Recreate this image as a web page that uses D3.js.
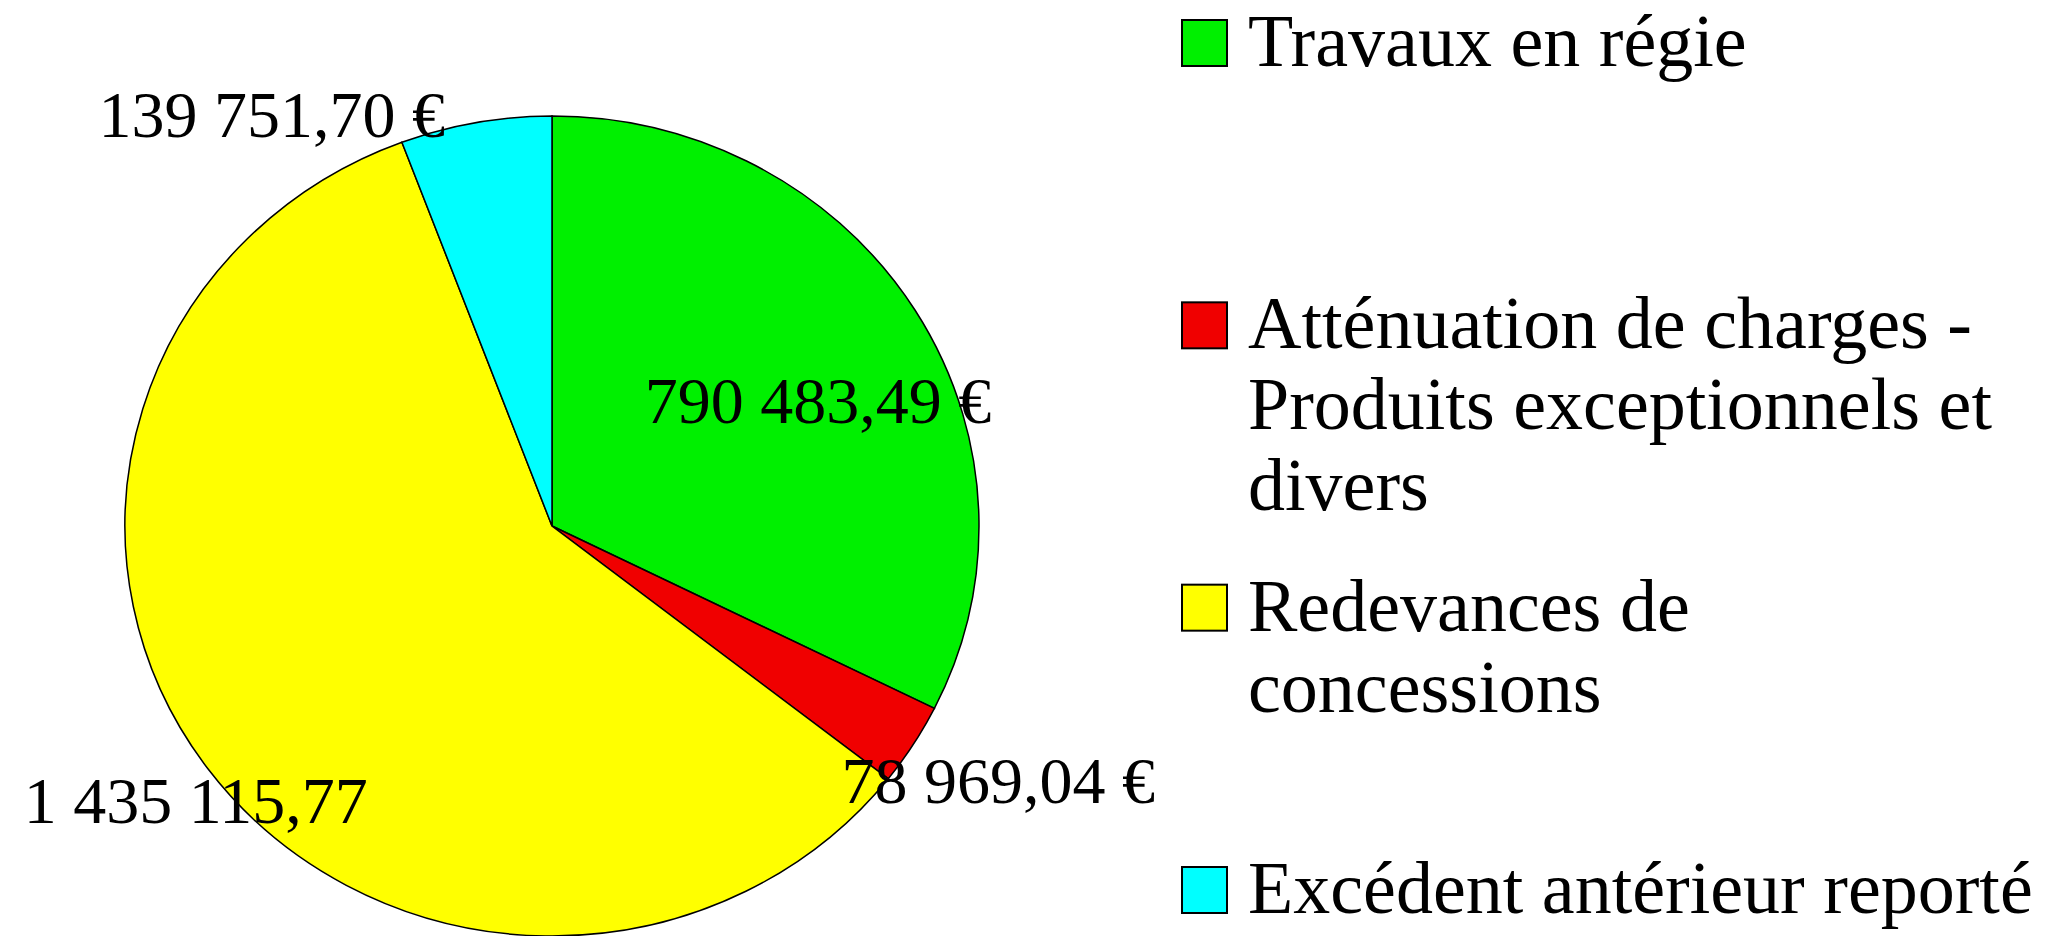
<!DOCTYPE html>
<html>
<head>
<meta charset="utf-8">
<script src="https://cdn.jsdelivr.net/npm/d3@7"></script>
<style>
    body { margin: 0; background: #fff; overflow: hidden; }
    text { font-family: "Liberation Serif", "Times New Roman", serif; fill: #000; }
</style>
</head>
<body>
<div id="chart"></div>
<script>
// data
const categories = ["Travaux en régie", "Atténuation de charges - Produits exceptionnels et divers", "Redevances de concessions", "Excédent antérieur reporté"];
const values = [790483.49, 78969.04, 1435115.77, 139751.70];
const valueLabels = ["790 483,49 €", "78 969,04 €", "1 435 115,77", "139 751,70 €"];
const colors = ["#00f000", "#f00000", "#ffff00", "#00ffff"];

// label placement relative to the rim point at mid angle
const labelOffsets = [[-97, 113], [85, 58], [-12, 54], [-204, 14]];

const width = 2049, height = 936;
const cx = 552, cy = 526, rx = 427, ry = 410;

const svg = d3.select("#chart").append("svg")
    .attr("width", width)
    .attr("height", height);

const pie = d3.pie().sort(null).value(d => d)(values);

const arc = d3.arc().innerRadius(0).outerRadius(ry);

const pieG = svg.append("g")
    .attr("transform", `translate(${cx},${cy}) scale(${rx / ry},1)`);

pieG.selectAll("path")
    .data(pie)
    .enter().append("path")
    .attr("d", arc)
    .attr("fill", (d, i) => colors[i])
    .attr("stroke", "#000")
    .attr("stroke-width", 1.5)
    .attr("vector-effect", "non-scaling-stroke");

// value labels
svg.append("g")
    .attr("transform", `translate(${cx},${cy})`)
    .selectAll("text")
    .data(pie)
    .enter().append("text")
    .attr("x", (d, i) => rx * Math.sin((d.startAngle + d.endAngle) / 2) + labelOffsets[i][0])
    .attr("y", (d, i) => -ry * Math.cos((d.startAngle + d.endAngle) / 2) + labelOffsets[i][1])
    .attr("text-anchor", "middle")
    .style("font-size", "66px")
    .text((d, i) => valueLabels[i]);

// legend
const legendY = d3.scalePoint().domain(categories).range([20, 867]);
const legendX = 1182, swatch = 46, textX = 1248, maxWidth = 798, lineHeight = 81;

const legend = svg.append("g").attr("class", "legend");

const items = legend.selectAll("g")
    .data(categories)
    .enter().append("g")
    .attr("transform", d => `translate(0,${legendY(d)})`);

items.append("rect")
    .attr("x", legendX)
    .attr("y", 0)
    .attr("width", swatch - 1)
    .attr("height", swatch)
    .attr("fill", (d, i) => colors[i])
    .attr("stroke", "#000")
    .attr("stroke-width", 2);

items.append("text")
    .attr("x", textX)
    .attr("y", swatch)
    .style("font-size", "74px")
    .each(function (d) {
        let text = d3.select(this);
        let words = d.split(" ");
        let line = [];
        let tspan = text.append("tspan").attr("x", textX).attr("dy", 0);
        words.forEach(w => {
            line.push(w);
            tspan.text(line.join(" "));
            if (tspan.node().getComputedTextLength() > maxWidth && line.length > 1) {
                line.pop();
                tspan.text(line.join(" "));
                line = [w];
                tspan = text.append("tspan").attr("x", textX).attr("dy", lineHeight).text(w);
            }
        });
    });
</script>
</body>
</html>
